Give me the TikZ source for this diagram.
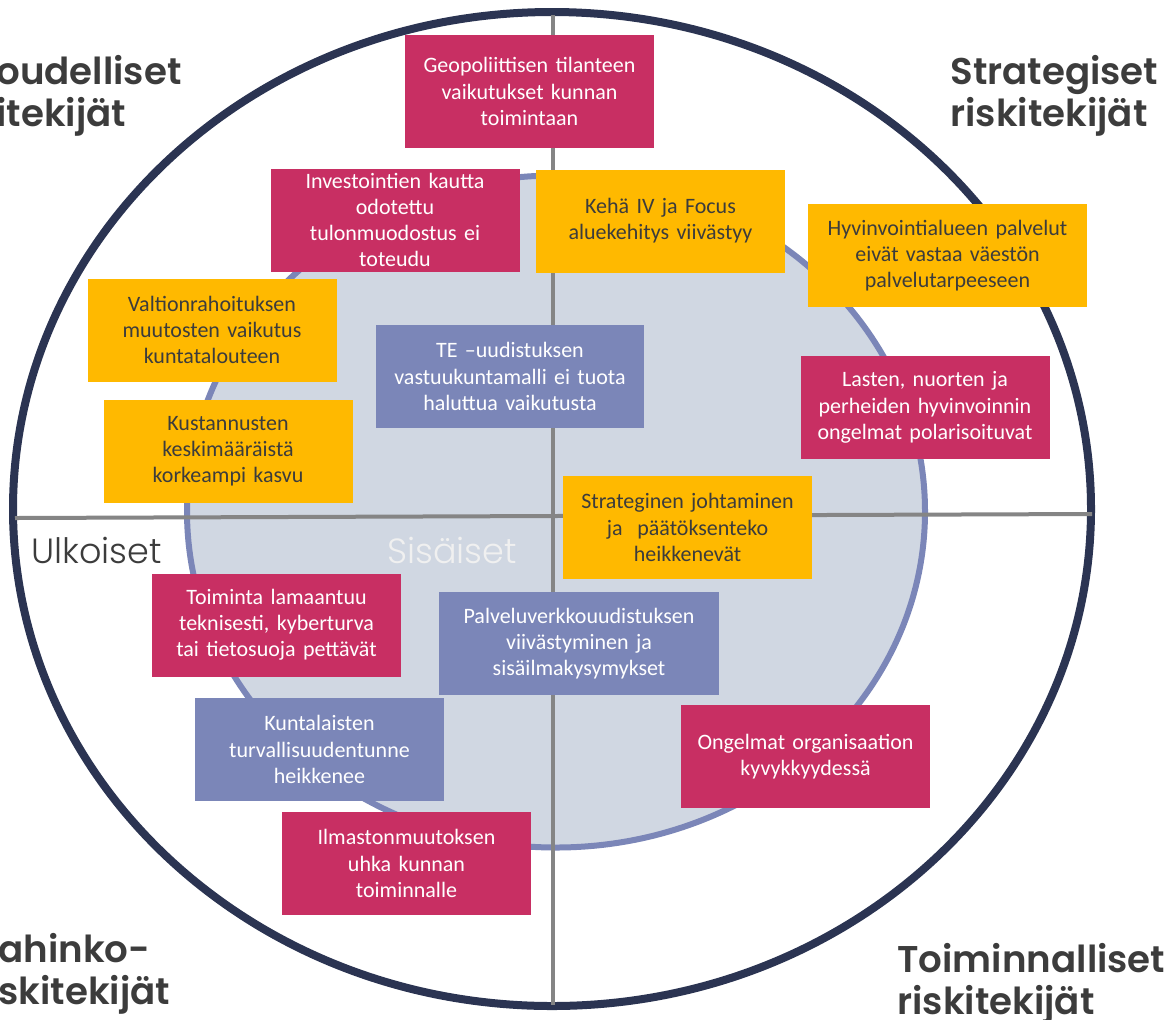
\documentclass[tikz,border=0pt]{standalone}
\usepackage{fontspec}
\setmainfont{Carlito}
\newfontfamily\headfont{Poppins SemiBold}
\newfontfamily\thinfont{Poppins Light}
\definecolor{riskred}{HTML}{C82F63}
\definecolor{riskyellow}{HTML}{FFB900}
\definecolor{riskblue}{HTML}{7B86B8}
\definecolor{textgray}{HTML}{3C3C3C}
\definecolor{ringnavy}{HTML}{2B3452}
\definecolor{innerfill}{HTML}{D0D7E2}
\definecolor{axisgray}{HTML}{858585}

\begin{document}
\begin{tikzpicture}[x=0.5pt, y=-0.5pt,
        risk/.style = {minimum width=124.5pt, minimum height=51.5pt, text width=124pt, align=center, inner sep=0pt, font=\fontsize{11}{13.1}\selectfont},
        red/.style = {risk, fill=riskred, text=white},
        yel/.style = {risk, fill=riskyellow, text=textgray},
        blu/.style = {risk, fill=riskblue, text=white},
        head/.style = {anchor=west, align=left, inner sep=0pt, text=textgray, font=\headfont\fontsize{18.6}{21}\selectfont},
        side/.style = {anchor=west, inner sep=0pt, font=\thinfont\fontsize{17.5}{17.5}\selectfont}]
        \useasboundingbox (0, 0) rectangle (1171, 1019);

        % rings and axes
        \draw[ringnavy, line width=4pt, fill=white] (552, 509) ellipse [x radius=539, y radius=497];
        \draw[riskblue, line width=3pt, fill=innerfill] (556, 511.5) ellipse [x radius=369, y radius=336];
        \draw[axisgray, line width=2pt] (15, 518) -- (1092, 514);
        \draw[axisgray, line width=2pt] (553, 15) -- (553, 1005);

        % corner titles
        \node[head] at (-4, 96) (TL) {oudelliset\\itekijät};
        \node[head] at (950, 96) (TR) {Strategiset\\riskitekijät};
        \node[head] at (-2, 974) (BL) {ahinko-\\skitekijät};
        \node[head] at (897, 984) (BR) {Toiminnalliset\\riskitekijät};
        \node[side, text=textgray] at (31, 550) (ulk) {Ulkoiset};
        \node[side, text=white!94!black] at (387, 550) (sis) {Sisäiset};

        % risk boxes
        \node[red, minimum height=56.5pt] at (529.5, 91.5) (geo) {Geopoliittisen tilanteen\\vaikutukset kunnan\\toimintaan};
        \node[red] at (395, 220) (inv) {Investointien kautta\\odotettu\\tulonmuodostus ei\\toteudu};
        \node[yel] at (660.5, 221) (keha) {Kehä IV ja Focus\\aluekehitys viivästyy};
        \node[yel, minimum width=139.5pt, text width=139pt] at (947.5, 255.5) (hyv) {Hyvinvointialueen palvelut\\eivät vastaa väestön\\palvelutarpeeseen};
        \node[yel] at (212, 330) (valt) {Valtionrahoituksen\\muutosten vaikutus\\kuntatalouteen};
        \node[blu, minimum width=134pt, text width=133pt] at (510, 376.5) (te) {TE –uudistuksen\\vastuukuntamalli ei tuota\\haluttua vaikutusta};
        \node[red] at (925, 407.5) (lasten) {Lasten, nuorten ja\\perheiden hyvinvoinnin\\ongelmat polarisoituvat};
        \node[yel] at (228, 451) (kust) {Kustannusten\\keskimääräistä\\korkeampi kasvu};
        \node[yel] at (687.5, 527.5) (strat) {Strateginen johtaminen\\ja~~päätöksenteko\\heikkenevät};
        \node[red] at (276.5, 625) (toim) {Toiminta lamaantuu\\teknisesti, kyberturva\\tai tietosuoja pettävät};
        \node[blu, minimum width=140pt, text width=139pt] at (579, 643.5) (palv) {Palveluverkkouudistuksen\\viivästyminen ja\\sisäilmakysymykset};
        \node[blu] at (319.5, 749.5) (kunt) {Kuntalaisten\\turvallisuudentunne\\heikkenee};
        \node[red] at (805.5, 756.5) (ong) {Ongelmat organisaation\\kyvykkyydessä};
        \node[red] at (406.5, 863.5) (ilm) {Ilmastonmuutoksen\\uhka kunnan\\toiminnalle};
\end{tikzpicture}
\end{document}
